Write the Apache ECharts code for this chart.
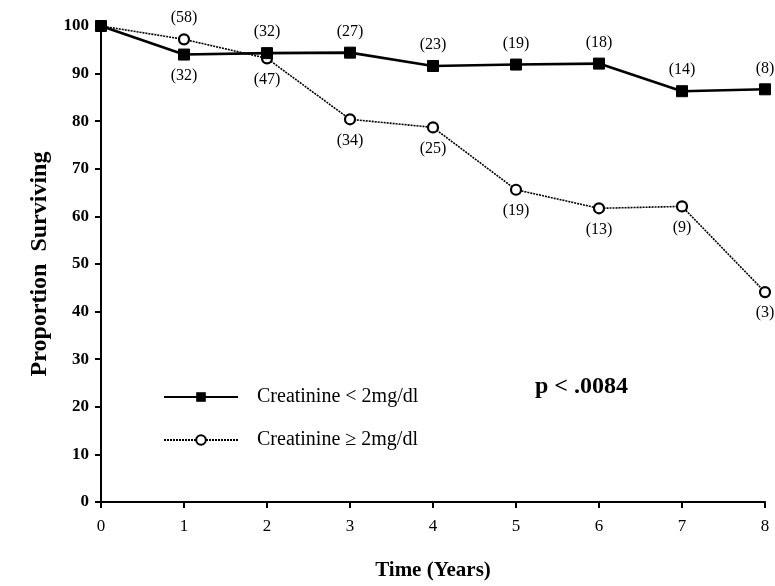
<!DOCTYPE html>
<html>
<head>
<meta charset="utf-8">
<script src="https://cdn.jsdelivr.net/npm/echarts@6/dist/echarts.min.js"></script>
<style>
  html, body { margin: 0; padding: 0; background: #fff; }
  #chart { width: 775px; height: 586px; }
</style>
</head>
<body>
<div id="chart"></div>
<script>
// 数据
const years = [0, 1, 2, 3, 4, 5, 6, 7, 8]
const lowCreat = [100, 94.0, 94.3, 94.4, 91.6, 91.9, 92.1, 86.3, 86.7]
const lowCounts = [null, 32, 32, 27, 23, 19, 18, 14, 8]
const highCreat = [100, 97.2, 93.2, 80.4, 78.7, 65.6, 61.7, 62.1, 44.1]
const highCounts = [null, 58, 47, 34, 25, 19, 13, 9, 3]
const yTicks = [0, 10, 20, 30, 40, 50, 60, 70, 80, 90, 100]

const serif = '"Liberation Serif", "DejaVu Serif", serif'

let myChart = echarts.init(document.getElementById('chart'))

// 点数据 + 标注（括号中为人数）
let buildData = (vals, counts, flipIndex, normalPos) => {
  return years.map((x, i) => {
    let pos = i === flipIndex ? (normalPos === 'top' ? 'bottom' : 'top') : normalPos
    return {
      value: [x, vals[i]],
      label: {
        show: counts[i] != null,
        position: pos,
        formatter: counts[i] != null ? '(' + counts[i] + ')' : ''
      }
    }
  })
}

let options = {
  animation: false,
  grid: { left: 101, right: 10, top: 26, bottom: 82 },
  legend: {
    orient: 'vertical',
    left: 158,
    top: 382,
    itemGap: 23,
    itemWidth: 74,
    itemHeight: 12,
    textStyle: { fontFamily: serif, fontSize: 20, color: '#000', padding: [0, 0, 0, 14] },
    data: ['Creatinine < 2mg/dl', 'Creatinine ≥ 2mg/dl']
  },
  xAxis: {
    type: 'value',
    min: 0,
    max: 8,
    interval: 1,
    name: 'Time (Years)',
    nameLocation: 'middle',
    nameGap: 58,
    nameTextStyle: { fontFamily: serif, fontSize: 21, fontWeight: 'bold', color: '#000' },
    axisLine: { lineStyle: { color: '#000', width: 2 } },
    axisTick: { length: 6, lineStyle: { color: '#000', width: 2 } },
    axisLabel: { fontFamily: serif, fontSize: 17, color: '#000', margin: 16 },
    splitLine: { show: false }
  },
  yAxis: {
    type: 'value',
    min: 0,
    max: 100,
    interval: 10,
    name: 'Proportion  Surviving',
    nameLocation: 'middle',
    nameGap: 49,
    nameTextStyle: { fontFamily: serif, fontSize: 24, fontWeight: 'bold', color: '#000' },
    axisLine: { show: true, lineStyle: { color: '#000', width: 2 } },
    axisTick: { show: true, length: 6, lineStyle: { color: '#000', width: 2 } },
    axisLabel: {
      fontFamily: serif, fontSize: 17, fontWeight: 'bold', color: '#000', margin: 12,
      formatter: v => yTicks.includes(v) ? String(v) : ''
    },
    splitLine: { show: false }
  },
  graphic: [{
    type: 'text',
    left: 535,
    top: 375,
    style: { text: 'p < .0084', font: 'bold 24px ' + serif, fill: '#000' }
  }],
  series: [
    {
      name: 'Creatinine < 2mg/dl',
      type: 'line',
      symbol: 'rect',
      symbolSize: 11,
      z: 3,
      itemStyle: { color: '#000', borderColor: '#000' },
      lineStyle: { color: '#000', width: 2.6 },
      label: { fontFamily: serif, fontSize: 16, color: '#000', distance: 7 },
      data: buildData(lowCreat, lowCounts, 1, 'top')
    },
    {
      name: 'Creatinine ≥ 2mg/dl',
      type: 'line',
      symbol: 'circle',
      symbolSize: 10,
      z: 2,
      itemStyle: { color: '#fff', borderColor: '#000', borderWidth: 2.2 },
      lineStyle: { color: '#000', width: 1.6, type: [2, 1] },
      label: { fontFamily: serif, fontSize: 16, color: '#000', distance: 7 },
      data: buildData(highCreat, highCounts, 1, 'bottom')
    }
  ]
}

myChart.setOption(options)
</script>
</body>
</html>
